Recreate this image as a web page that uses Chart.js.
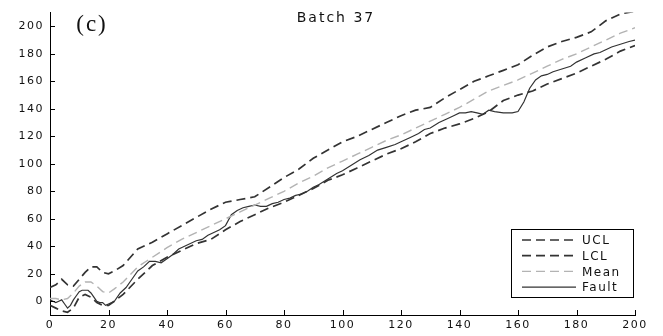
<!DOCTYPE html>
<html>
<head>
<meta charset="utf-8">
<script src="https://cdn.jsdelivr.net/npm/chart.js@4.4.0/dist/chart.umd.min.js"></script>
<style>
  html, body { margin: 0; padding: 0; background: #fff; }
  #wrap { width: 663px; height: 336px; }
</style>
</head>
<body>
<div id="wrap"><canvas id="chart"></canvas></div>
<script>
// x positions shared by the control limits and the mean
var boundX = [0, 2, 4, 6, 8, 10, 12, 14, 16, 18, 20, 22,
  25, 30, 35, 40, 45, 50, 55, 60, 65, 70, 75, 80, 85, 90, 95, 100,
  105, 110, 115, 120, 125, 130, 135, 140, 145, 150, 155, 160,
  165, 170, 175, 180, 185, 190, 195, 200];
var ucl = [10, 12, 16, 12, 11, 16, 21, 25, 25, 21, 20, 22,
  26, 38, 43, 49, 55, 61, 67, 72, 74, 76, 83, 90, 96, 104, 110, 116,
  120, 125, 130, 135, 139, 141, 148, 154, 160, 164, 168, 172,
  179, 185, 189, 192, 196, 204, 209, 211];
var lcl = [-3, -5, -7, -8, -5, 3, 5, 3, -1, -3, -3, 0,
  5, 16, 26, 32, 37, 42, 45, 52, 58, 63, 68, 72, 77, 82, 88, 92,
  97, 102, 107, 111, 116, 122, 126, 129, 133, 138, 146, 150,
  153, 158, 162, 166, 171, 176, 182, 186];
var mean = [2, 2, 1, 2, 6, 11, 14, 14, 11, 7, 6, 9,
  14, 25, 32, 39, 45, 50, 55, 60, 65, 70, 75, 80, 86, 91, 97, 102,
  107, 112, 117, 121, 126, 131, 136, 141, 147, 153, 157, 161,
  166, 171, 176, 180, 185, 190, 195, 199];

var faultX = [0, 1, 2, 3, 4, 5, 6, 7, 8, 9, 10, 11, 12, 13, 14, 15, 16, 17, 18, 19, 20,
  22, 24, 26, 28, 30, 32, 34, 36, 38, 40, 42, 44, 46, 48, 50, 52, 54, 56, 58, 60,
  62, 64, 66, 68, 70, 72, 74, 76, 78, 80, 82, 84, 86, 88, 90, 92, 95, 98, 100,
  103, 106, 109, 112, 115, 118, 120, 123, 126, 128, 130, 133, 136, 138, 140,
  142, 144, 146, 148, 150, 152, 155, 158, 160, 162, 164, 166, 168, 170, 172,
  175, 178, 180, 183, 186, 188, 190, 192, 195, 198, 200];
var fault = [1, 0, -1, 0, 1, -2, -5, -3, 1, 4, 7, 8, 8, 8, 6, 3, 0, -1, -1, -3, -2,
  0, 6, 10, 16, 22, 25, 29, 29, 28, 31, 34, 38, 40, 42, 44, 45, 48, 50, 52, 55,
  63, 66, 68, 69, 70, 69, 69, 71, 72, 74, 75, 77, 78, 80, 83, 85, 89, 93, 95,
  99, 103, 106, 110, 112, 114, 116, 119, 122, 125, 126, 130, 133, 135, 137,
  137, 138, 137, 136, 139, 138, 137, 137, 138, 145, 155, 161, 164, 165, 167,
  169, 171, 174, 177, 180, 181, 183, 185, 187, 189, 190];

var xTicks = [0, 20, 40, 60, 80, 100, 120, 140, 160, 180, 200];
var yTicks = [0, 20, 40, 60, 80, 100, 120, 140, 160, 180, 200];
var seriesNames = ['UCL', 'LCL', 'Mean', 'Fault'];

function pairs(xs, ys) {
  return xs.map(function (x, i) { return { x: x, y: ys[i] }; });
}

var DARK = '#333333';
var LIGHT = '#b3b3b3';
var DASH = [9, 5];

var decorations = {
  id: 'decorations',
  beforeDraw: function (chart) {
    chart.ctx.letterSpacing = '1.5px';
  },
  afterDraw: function (chart) {
    var ctx = chart.ctx;
    var area = chart.chartArea;
    var xs = chart.scales.x, ys = chart.scales.y;
    ctx.save();
    // inward tick marks
    ctx.strokeStyle = '#000';
    ctx.lineWidth = 1;
    ctx.beginPath();
    xTicks.forEach(function (v) {
      var px = Math.round(xs.getPixelForValue(v)) + 0.5;
      ctx.moveTo(px, area.bottom);
      ctx.lineTo(px, area.bottom - 5);
    });
    yTicks.forEach(function (v) {
      var py = Math.round(ys.getPixelForValue(v)) + 0.5;
      ctx.moveTo(area.left, py);
      ctx.lineTo(area.left + 5, py);
    });
    ctx.stroke();

    // title and panel letter
    ctx.fillStyle = '#111';
    ctx.textBaseline = 'middle';
    ctx.textAlign = 'center';
    ctx.letterSpacing = '2px';
    ctx.font = '14px "DejaVu Sans"';
    ctx.fillText('Batch 37', 336, 18);
    ctx.letterSpacing = '2px';
    ctx.font = '23px "Liberation Serif"';
    ctx.fillText('(c)', 92, 25);

    // legend box
    var bx = 511.5, by = 229.5, bw = 122, bh = 68;
    ctx.fillStyle = '#fff';
    ctx.fillRect(bx, by, bw, bh);
    ctx.strokeStyle = '#000';
    ctx.lineWidth = 1;
    ctx.setLineDash([]);
    ctx.strokeRect(bx, by, bw, bh);
    ctx.font = '12px "DejaVu Sans"';
    ctx.letterSpacing = '1.5px';
    ctx.textAlign = 'left';
    chart.data.datasets.forEach(function (ds, i) {
      var ly = 240 + i * 15.7;
      ctx.beginPath();
      ctx.strokeStyle = ds.borderColor;
      ctx.lineWidth = ds.borderWidth;
      ctx.setLineDash(ds.borderDash || []);
      ctx.moveTo(522, ly);
      ctx.lineTo(576, ly);
      ctx.stroke();
      ctx.fillStyle = '#111';
      ctx.fillText(seriesNames[i], 582, ly + 1);
    });
    ctx.restore();
  }
};

new Chart(document.getElementById('chart'), {
  type: 'line',
  data: {
    datasets: [
      { label: seriesNames[0], data: pairs(boundX, ucl), borderColor: DARK, borderWidth: 1.7, borderDash: DASH },
      { label: seriesNames[1], data: pairs(boundX, lcl), borderColor: DARK, borderWidth: 1.7, borderDash: DASH },
      { label: seriesNames[2], data: pairs(boundX, mean), borderColor: LIGHT, borderWidth: 1.4, borderDash: DASH },
      { label: seriesNames[3], data: pairs(faultX, fault), borderColor: DARK, borderWidth: 1.2 }
    ]
  },
  options: {
    responsive: true,
    maintainAspectRatio: false,
    animation: false,
    events: [],
    elements: { point: { radius: 0 }, line: { tension: 0, fill: false } },
    layout: { padding: { top: 12, right: 28, left: 0, bottom: 0 } },
    plugins: { legend: { display: false }, title: { display: false }, tooltip: { enabled: false } },
    scales: {
      x: {
        type: 'linear',
        min: 0,
        max: 200,
        afterBuildTicks: function (scale) {
          scale.ticks = xTicks.map(function (v) { return { value: v }; });
        },
        afterFit: function (scale) { scale.height = 21; },
        grid: { display: false, drawTicks: false },
        border: { display: true, color: '#000', width: 1 },
        ticks: { color: '#111', padding: 4, maxRotation: 0, font: { family: 'DejaVu Sans', size: 11 } }
      },
      y: {
        type: 'linear',
        min: -10,
        max: 210,
        afterBuildTicks: function (scale) {
          scale.ticks = yTicks.map(function (v) { return { value: v }; });
        },
        afterFit: function (scale) { scale.width = 50; },
        grid: { display: false, drawTicks: false },
        border: { display: true, color: '#000', width: 1 },
        ticks: { color: '#111', padding: 6, font: { family: 'DejaVu Sans', size: 11 } }
      }
    }
  },
  plugins: [decorations]
});
</script>
</body>
</html>
